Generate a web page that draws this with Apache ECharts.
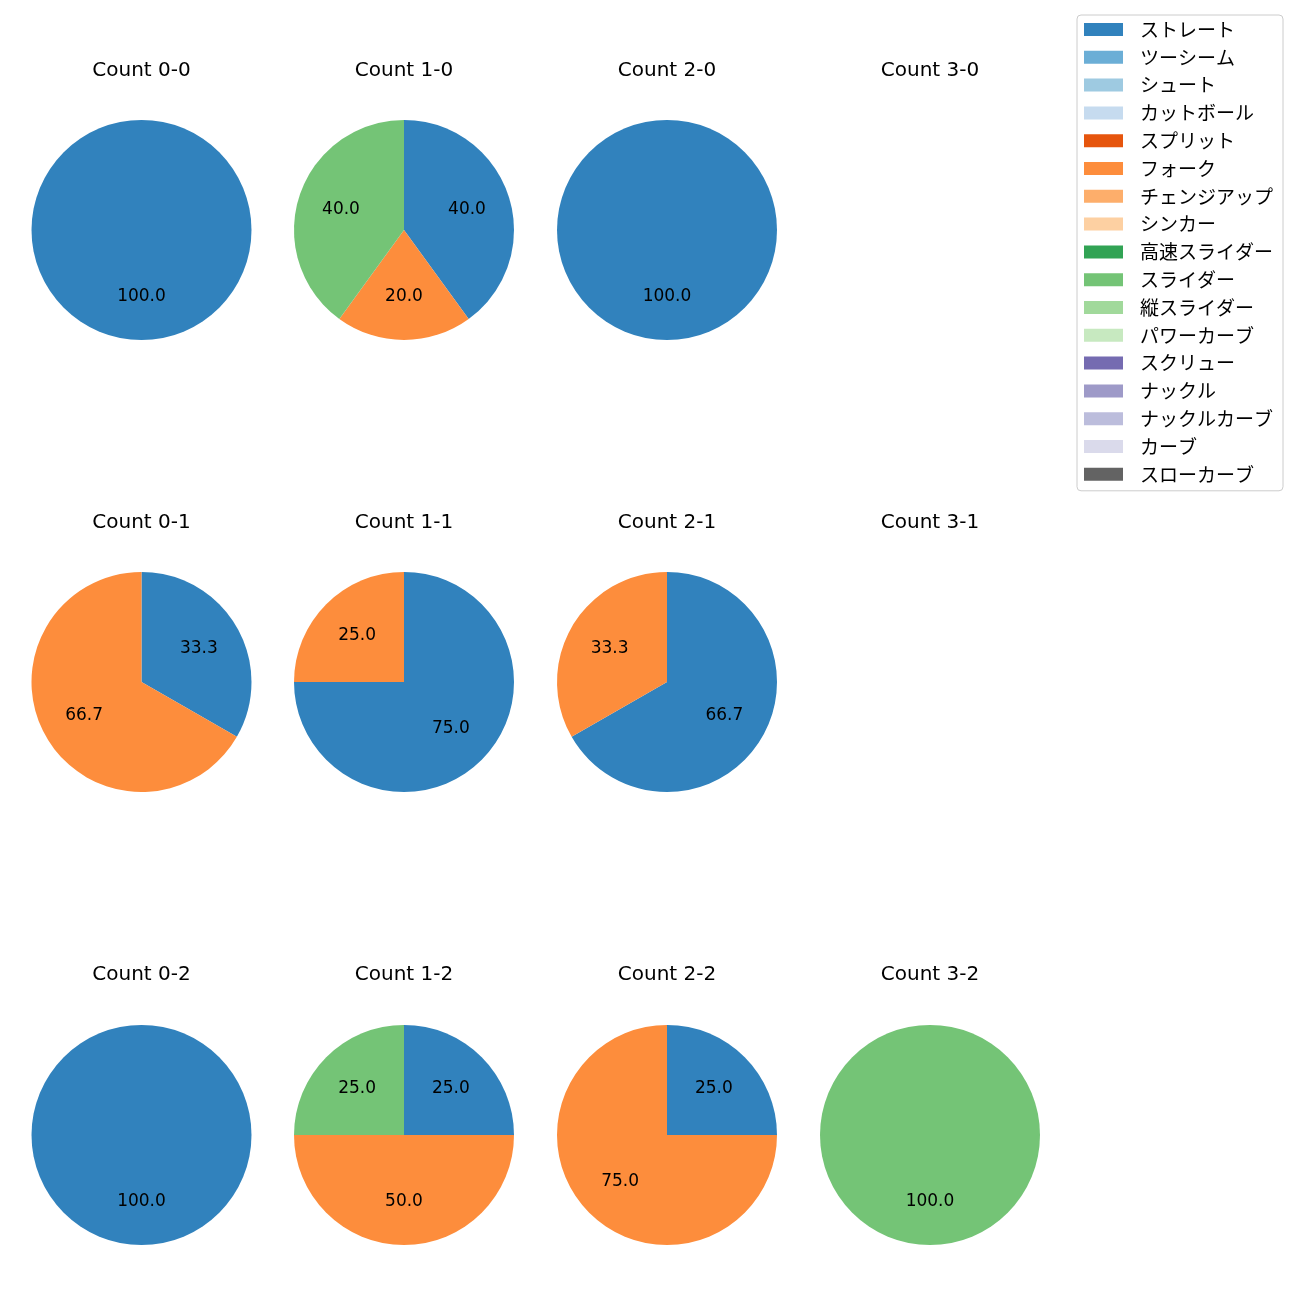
<!DOCTYPE html>
<html><head><meta charset="utf-8">
<script src="https://cdn.jsdelivr.net/npm/echarts@6/dist/echarts.min.js"></script>
<style>html,body{margin:0;padding:0;background:#fff}#c{width:1300px;height:1300px}</style>
</head><body><div id="c"></div>
<script>
const categories = ['ストレート','ツーシーム','シュート','カットボール','スプリット','フォーク','チェンジアップ','シンカー','高速スライダー','スライダー','縦スライダー','パワーカーブ','スクリュー','ナックル','ナックルカーブ','カーブ','スローカーブ'];
const colors = ['#3182bd','#6baed6','#9ecae1','#c6dbef','#e6550d','#fd8d3c','#fdae6b','#fdd0a2','#31a354','#74c476','#a1d99b','#c7e9c0','#756bb1','#9e9ac8','#bcbddc','#dadaeb','#636363'];
const panelTitles = ['Count 0-0','Count 1-0','Count 2-0','Count 3-0','Count 0-1','Count 1-1','Count 2-1','Count 3-1','Count 0-2','Count 1-2','Count 2-2','Count 3-2'];
// percentages per panel
const panelStraight = [100, 40, 100, 0, 33.3, 75, 66.7, 0, 100, 25, 25, 0];
const panelFork     = [0,   20, 0,   0, 66.7, 25, 33.3, 0, 0,   50, 75, 0];
const panelSlider   = [0,   40, 0,   0, 0,    0,  0,    0, 0,   25, 0,  100];

const FONT_JP = '"Noto Sans CJK JP", "Noto Sans", sans-serif';
const FONT_LAT = '"DejaVu Sans", "Noto Sans", sans-serif';
const colX = [141.5, 404, 667, 930];
const rowY = [230, 682, 1135];
const titleY = [69, 521, 973];
const R = 110;

const series = [];
const titles = [];
const labelSeries = [];
panelTitles.forEach((t, i) => {
  const c = i % 4, r = Math.floor(i / 4);
  titles.push({text: t, left: colX[c], top: titleY[r] - 8, textAlign: 'center', padding: 0,
    textStyle: {fontFamily: FONT_LAT, fontSize: 20, fontWeight: 'normal', color: '#000'}});
  const vals = categories.map((name, k) => {
    if (k === 0) return panelStraight[i];
    if (k === 5) return panelFork[i];
    if (k === 9) return panelSlider[i];
    return 0;
  });
  const data = categories.map((name, k) => ({name, value: vals[k], itemStyle: {color: colors[k]}}));
  series.push({type: 'pie', center: [colX[c], rowY[r]], radius: R, startAngle: 90, clockwise: true,
    stillShowZeroSum: false, silent: true, animation: false, label: {show: false}, labelLine: {show: false},
    itemStyle: {borderWidth: 0}, data});
  labelSeries.push({type: 'pie', center: [colX[c], rowY[r]], radius: R * 1.15, startAngle: 90, clockwise: true,
    stillShowZeroSum: false, silent: true, animation: false, legendHoverLink: false,
    label: {show: true, position: 'inside', fontFamily: FONT_LAT, fontSize: 17, color: '#000',
      formatter: p => p.value > 0 ? p.value.toFixed(1) : ''},
    labelLine: {show: false},
    itemStyle: {color: 'rgba(0,0,0,0)', borderWidth: 0},
    data: categories.map((name, k) => ({name, value: vals[k], itemStyle: {color: 'rgba(0,0,0,0)'}}))});
});

const chart = echarts.init(document.getElementById('c'), null, {renderer: 'canvas'});
chart.setOption({
  animation: false,
  title: titles,
  legend: {
    orient: 'vertical', left: 1077, top: 15,
    data: categories.map((n, k) => ({name: n, itemStyle: {color: colors[k]}})),
    itemWidth: 39, itemHeight: 13, itemGap: 8.8,
    padding: [5, 10, 7, 7],
    borderColor: '#cccccc', borderWidth: 1, borderRadius: 4,
    icon: 'rect', selectedMode: false,
    textStyle: {fontFamily: FONT_JP, fontSize: 19, color: '#000', lineHeight: 19, padding: [0, 0, 0, 12]}
  },
  series: series.concat(labelSeries)
});
</script></body></html>
